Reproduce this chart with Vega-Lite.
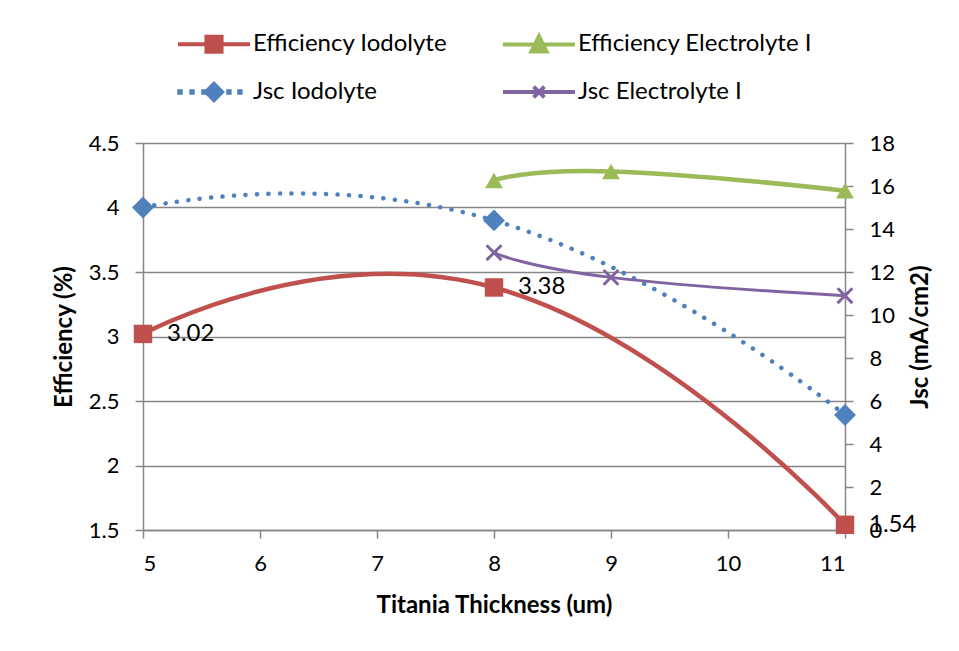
{
  "$schema": "https://vega.github.io/schema/vega-lite/v6.json",
  "width": 702,
  "height": 387,
  "autosize": {"type": "none"},
  "padding": {"left": 143, "top": 143, "right": 114, "bottom": 121},
  "background": "white",
  "config": {
    "font": "Lato",
    "view": {"stroke": null},
    "axis": {
      "labelFont": "Lato", "labelFontSize": 22, "labelColor": "black",
      "titleFont": "Lato", "titleFontSize": 24, "titleFontWeight": "bold", "titleColor": "black",
      "domainColor": "#868686", "domainWidth": 1.5,
      "tickColor": "#868686", "tickWidth": 1.5, "tickSize": 8,
      "gridColor": "#868686", "gridWidth": 1.5
    },
    "legend": {
      "orient": "none", "legendX": 51, "legendY": -119, "columns": 2, "direction": "horizontal",
      "symbolSize": 1296, "symbolStrokeWidth": 4, "symbolStrokeColor": "#000000", "symbolOpacity": 1,
      "labelFont": "Lato", "labelFontSize": 24, "labelColor": "black", "labelOffset": 19, "labelLimit": 400,
      "columnPadding": 47, "rowPadding": 12, "padding": 0
    }
  },
  "data": {
    "values": [
      {"series": "Efficiency Iodolyte", "x": 5, "value": 3.02},
      {"series": "Efficiency Iodolyte", "x": 8, "value": 3.38},
      {"series": "Efficiency Iodolyte", "x": 11, "value": 1.54},
      {"series": "Efficiency Electrolyte I", "x": 8, "value": 4.21},
      {"series": "Efficiency Electrolyte I", "x": 9, "value": 4.28},
      {"series": "Efficiency Electrolyte I", "x": 11, "value": 4.13},
      {"series": "Jsc Iodolyte", "x": 5, "value": 15.0},
      {"series": "Jsc Iodolyte", "x": 8, "value": 14.4},
      {"series": "Jsc Iodolyte", "x": 11, "value": 5.35},
      {"series": "Jsc Electrolyte I", "x": 8, "value": 12.9},
      {"series": "Jsc Electrolyte I", "x": 9, "value": 11.75},
      {"series": "Jsc Electrolyte I", "x": 11, "value": 10.9}
    ]
  },
  "encoding": {
    "x": {
      "field": "x", "type": "quantitative",
      "scale": {"domain": [5, 11], "nice": false, "zero": false},
      "axis": {"values": [5, 6, 7, 8, 9, 10, 11], "format": "d", "grid": false, "title": "Titania Thickness (um)", "labelPadding": 15, "titlePadding": 19}
    }
  },
  "layer": [
    {
      "transform": [{"filter": "indexof(datum.series, 'Efficiency') == 0"}],
      "encoding": {
        "y": {
          "field": "value", "type": "quantitative",
          "scale": {"domain": [1.5, 4.5], "nice": false, "zero": false},
          "axis": {"orient": "left", "values": [1.5, 2, 2.5, 3, 3.5, 4, 4.5], "format": "~g", "grid": true, "title": "Efficiency (%)", "labelPadding": 16, "titlePadding": 12}
        }
      },
      "layer": [
        {"transform": [{"filter": "datum.series == 'Efficiency Iodolyte'"}], "mark": {"type": "line", "interpolate": "cardinal", "tension": -0.5, "strokeWidth": 4.5, "strokeCap": "round", "color": "#C0504D"}},
        {"transform": [{"filter": "datum.series == 'Efficiency Electrolyte I'"}], "mark": {"type": "line", "interpolate": "cardinal", "tension": -0.5, "strokeWidth": 4.5, "strokeCap": "round", "color": "#9BBB59"}},
        {"transform": [{"filter": "datum.series == 'Efficiency Iodolyte'"}], "mark": {"type": "point", "shape": "square", "filled": true, "opacity": 1, "size": 340, "color": "#C0504D"}},
        {"transform": [{"filter": "datum.series == 'Efficiency Electrolyte I'"}], "mark": {"type": "point", "shape": "triangle-up", "filled": true, "opacity": 1, "size": 320, "color": "#9BBB59"}},
        {
          "transform": [{"filter": "datum.series == 'Efficiency Iodolyte'"}],
          "mark": {"type": "text", "align": "left", "baseline": "middle", "dx": 24, "fontSize": 24, "font": "Lato", "color": "black"},
          "encoding": {"text": {"field": "value", "type": "quantitative", "format": ".2f"}}
        }
      ]
    },
    {
      "transform": [{"filter": "indexof(datum.series, 'Jsc') == 0"}],
      "encoding": {
        "y": {
          "field": "value", "type": "quantitative",
          "scale": {"domain": [0, 18], "nice": false},
          "axis": {"orient": "right", "values": [0, 2, 4, 6, 8, 10, 12, 14, 16, 18], "format": "d", "grid": false, "title": "Jsc (mA/cm2)", "titleAngle": 270, "labelPadding": 16, "titlePadding": 38}
        }
      },
      "layer": [
        {"transform": [{"filter": "datum.series == 'Jsc Iodolyte'"}], "mark": {"type": "line", "interpolate": "cardinal", "tension": -0.5, "strokeWidth": 4.5, "strokeCap": "round", "strokeDash": [0.1, 11.4], "color": "#4F81BD"}},
        {"transform": [{"filter": "datum.series == 'Jsc Electrolyte I'"}], "mark": {"type": "line", "interpolate": "cardinal", "tension": -0.5, "strokeWidth": 3, "color": "#8064A2"}},
        {"transform": [{"filter": "datum.series == 'Jsc Iodolyte'"}], "mark": {"type": "point", "shape": "diamond", "filled": true, "opacity": 1, "size": 480, "color": "#4F81BD"}},
        {"transform": [{"filter": "datum.series == 'Jsc Electrolyte I'"}], "mark": {"type": "point", "shape": "M-1,-1L1,1M-1,1L1,-1", "filled": false, "opacity": 1, "size": 220, "strokeWidth": 3, "color": "#8064A2"}}
      ]
    },
    {
      "transform": [{"filter": "datum.x > 100"}],
      "mark": {"type": "point", "filled": true, "opacity": 1},
      "encoding": {
        "color": {
          "field": "series", "type": "nominal",
          "scale": {
            "domain": ["Efficiency Iodolyte", "Efficiency Electrolyte I", "Jsc Iodolyte", "Jsc Electrolyte I"],
            "range": ["#C0504D", "#9BBB59", "#4F81BD", "#8064A2"]
          },
          "legend": {"title": null}
        },
        "stroke": {
          "field": "series", "type": "nominal",
          "scale": {
            "domain": ["Efficiency Iodolyte", "Efficiency Electrolyte I", "Jsc Iodolyte", "Jsc Electrolyte I"],
            "range": ["#C0504D", "#9BBB59", "#4F81BD", "#8064A2"]
          },
          "legend": {"title": null}
        },
        "shape": {
          "field": "series", "type": "nominal",
          "scale": {
            "domain": ["Efficiency Iodolyte", "Efficiency Electrolyte I", "Jsc Iodolyte", "Jsc Electrolyte I"],
            "range": [
              "M-2,0H2M-0.42,-0.42H0.42V0.42H-0.42Z",
              "M-2,0H2M0,-0.45L0.42,0.4H-0.42Z",
              "M-1.93,-0.04h0.08v0.08h-0.08ZM-1.26,-0.04h0.08v0.08h-0.08ZM-0.6,-0.04h0.08v0.08h-0.08ZM0.79,-0.04h0.08v0.08h-0.08ZM1.4,-0.04h0.08v0.08h-0.08ZM-0.45,0L0,-0.45L0.45,0L0,0.45Z",
              "M-2,0H2M-0.3,-0.3L0.3,0.3M-0.3,0.3L0.3,-0.3"
            ]
          },
          "legend": {"title": null}
        }
      }
    }
  ],
  "resolve": {"scale": {"y": "independent"}}
}
